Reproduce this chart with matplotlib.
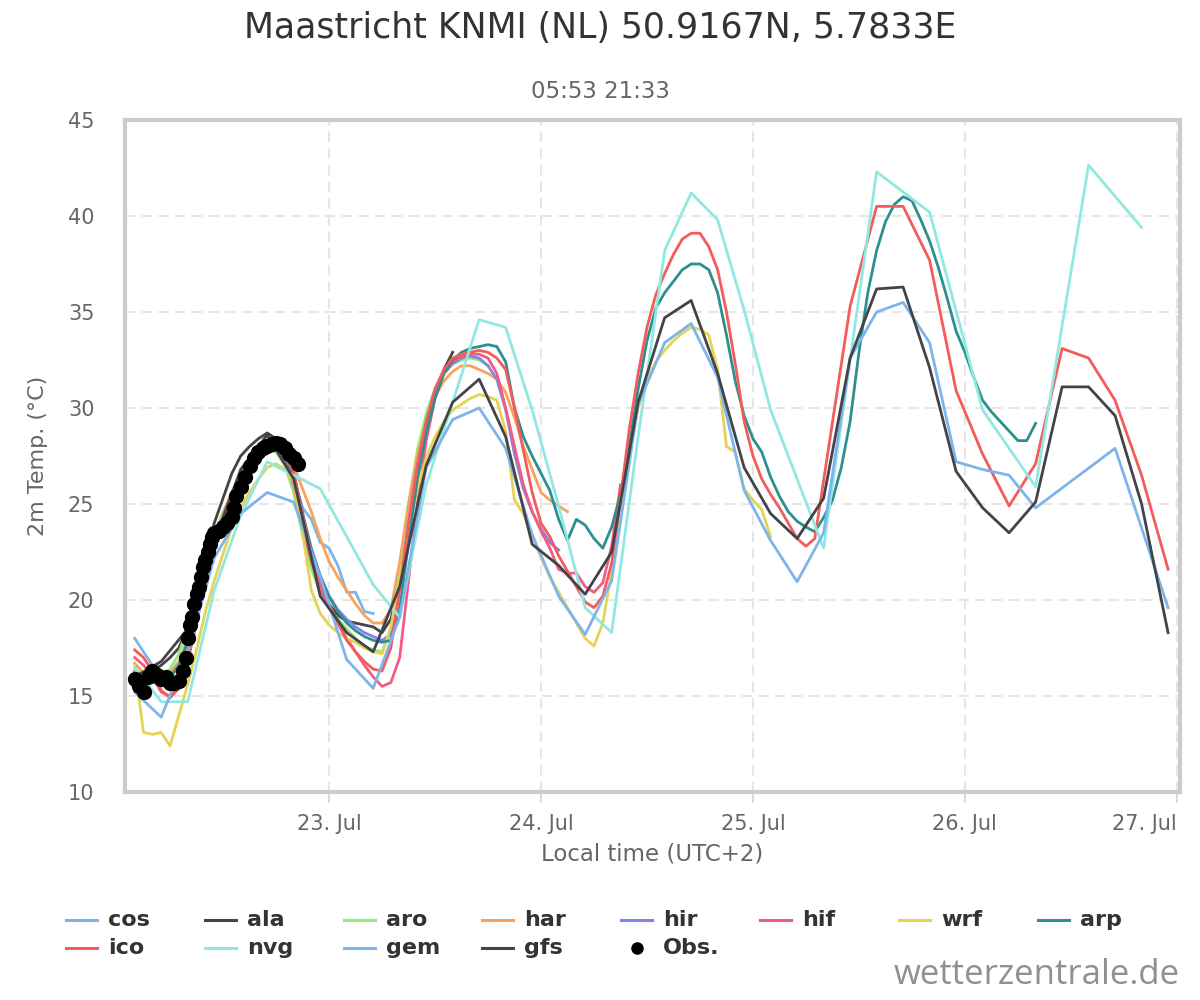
import numpy as np
import matplotlib
matplotlib.use('Agg')
import matplotlib.pyplot as plt
from matplotlib.lines import Line2D

# ---- data: hours counted from 22 Jul 00:00 local time ----
cos_start = 2
cos_temp = [18.0, 17.3, 16.6, 15.8, 15.5, 16.0, 17.2, 19.0, 21.0, 22.6,
            24.0, 25.2, 26.2, 27.0, 27.6, 27.9, 27.9, 27.4, 26.4, 24.8,
            24.2, 23.0, 22.7, 21.8, 20.4, 20.4, 19.4, 19.3]

ala_start = 2
ala_temp = [16.3, 16.1, 16.3, 16.6, 17.0, 17.5, 18.6, 20.0, 22.0, 24.0,
            25.3, 26.6, 27.5, 28.0, 28.4, 28.7, 28.4, 27.8, 26.6, 24.5,
            22.2, 20.6, 19.8, 19.2, 18.9, 18.8, 18.7, 18.6, 18.3, 19.0,
            20.7, 23.8, 26.6, 28.8, 30.6, 32.0, 32.9]

aro_start = 2
aro_temp = [16.3, 16.1, 15.9, 16.0, 16.4, 17.2, 18.6, 20.3, 22.0, 23.4,
            24.6, 25.6, 26.4, 27.0, 27.5, 27.8, 27.7, 27.0, 25.6, 23.4,
            21.6, 20.4, 19.6, 19.0, 18.5, 18.0, 17.6, 17.4, 17.3, 18.4,
            21.5, 25.0, 27.8, 29.7, 31.0, 31.8, 32.3, 32.5, 32.6, 32.5,
            32.2]

har_start = 2
har_temp = [16.7, 16.2, 16.0, 16.0, 16.2, 16.8, 18.0, 19.8, 21.6, 23.0,
            24.2, 25.3, 26.2, 27.0, 27.6, 27.9, 28.0, 27.7, 27.0, 25.8,
            24.6, 23.2, 22.0, 21.2, 20.5, 19.8, 19.2, 18.8, 18.8, 19.5,
            22.0, 25.0, 27.5, 29.3, 30.6, 31.4, 31.9, 32.2, 32.2, 32.0,
            31.8, 31.5, 30.8, 29.5, 28.0, 26.8, 25.6, 25.2, 24.9, 24.6]

hir_start = 2
hir_temp = [16.3, 16.0, 15.8, 15.6, 15.9, 16.6, 17.8, 19.6, 21.4, 23.0,
            24.3, 25.4, 26.4, 27.2, 27.8, 28.1, 28.1, 27.6, 26.5, 24.5,
            22.7, 21.3, 20.2, 19.5, 19.0, 18.6, 18.3, 18.1, 17.9, 18.2,
            20.6, 24.0, 27.0, 29.2, 30.8, 31.8, 32.3, 32.6, 32.7, 32.6,
            32.2, 31.5, 29.9, 27.6, 25.8, 24.6, 23.7, 23.0, 22.6]

hif_start = 2
hif_temp = [17.0, 16.6, 16.0, 15.2, 15.0, 15.6, 17.2, 19.3, 21.4, 23.0,
            24.4, 25.6, 26.6, 27.3, 27.9, 28.2, 28.0, 27.4, 26.0, 23.8,
            22.0, 20.6, 19.6, 18.8, 18.0, 17.3, 16.6, 16.0, 15.5, 15.7,
            17.0, 21.0, 25.0, 28.3, 30.5, 31.8, 32.4, 32.7, 32.8, 32.8,
            32.6, 31.8, 30.0, 28.0, 26.0, 24.6, 23.6, 22.7, 21.6, 21.4,
            21.4, 20.7, 20.4, 20.9, 22.8, 26.0]

wrf_start = 2
wrf_temp = [16.6, 13.1, 13.0, 13.1, 12.4, 14.0, 15.6, 17.4, 19.4, 21.0,
            22.4, 23.8, 24.8, 25.6, 26.3, 26.9, 27.1, 26.8, 26.2, 23.5,
            20.5, 19.3, 18.7, 18.3, 18.0, 17.8, 17.5, 17.3, 17.2, 18.6,
            21.0, 23.6, 25.8, 27.4, 28.5, 29.3, 29.9, 30.2, 30.5, 30.7,
            30.6, 30.4, 28.8, 25.2, 24.5, 23.4, 22.2, 21.2, 20.4, 19.6,
            18.8, 18.0, 17.6, 18.8, 21.5, 24.8, 27.8, 30.0, 31.5, 32.4,
            33.0, 33.5, 33.9, 34.2, 34.1, 33.8, 32.0, 28.0, 27.7, 25.8,
            25.2, 24.7, 23.3]

arp_start = 2
arp_temp = [16.2, 16.0, 15.7, 15.7, 16.0, 16.6, 17.8, 19.5, 21.3, 22.8,
            24.0, 25.2, 26.2, 27.0, 27.6, 28.0, 28.0, 27.5, 26.5, 24.5,
            22.6, 21.2, 20.2, 19.4, 18.8, 18.4, 18.1, 17.9, 17.8, 17.9,
            19.5, 23.0, 26.3, 28.7, 30.5, 31.8, 32.5, 32.9, 33.1, 33.2,
            33.3, 33.2, 32.4, 30.0, 28.5, 27.5, 26.6, 25.7, 24.2, 23.1,
            24.2, 23.9, 23.2, 22.7, 23.8, 25.5, 28.0, 31.0, 33.5, 35.2,
            36.0, 36.6, 37.2, 37.5, 37.5, 37.2, 36.0, 33.8, 31.4, 29.6,
            28.4, 27.7, 26.4, 25.4, 24.6, 24.1, 23.8, 23.55, 24.3, 25.2,
            26.9, 29.3, 32.9, 36.0, 38.2, 39.7, 40.6, 41.0, 40.8, 39.8,
            38.7, 37.3, 35.7, 34.0, 32.9, 31.6, 30.4, 29.8, 29.3, 28.8,
            28.3, 28.3, 29.2]

ico_hours = list(range(2, 80)) + list(range(83, 120, 3))
ico_temp = [17.4, 17.0, 16.3, 15.3, 14.9, 15.4, 16.8, 18.8, 21.0, 22.8,
            24.2, 25.4, 26.4, 27.2, 27.8, 28.2, 28.2, 27.7, 26.6, 24.4,
            22.4, 21.0, 19.8, 18.8, 17.9, 17.3, 16.8, 16.4, 16.3, 17.5,
            20.5, 24.0, 27.0, 29.3, 31.0, 32.0, 32.6, 32.8, 32.9, 33.0,
            32.9, 32.6, 32.0, 30.0, 27.8, 25.6, 24.0, 23.3, 22.3, 21.5,
            20.7, 19.9, 19.6, 20.2, 21.9, 25.3, 28.9, 31.8, 34.2, 35.9,
            37.0, 38.0, 38.8, 39.1, 39.1, 38.4, 37.2, 35.0, 32.3, 29.3,
            27.5, 26.3, 25.5, 24.8, 24.0, 23.2, 22.8, 23.2,
            35.3, 40.5, 40.5, 37.7, 30.9, 27.6, 24.9, 27.1, 33.1, 32.6,
            30.4, 26.5, 21.6]

nvg_hours = [2, 5, 8, 11, 14, 17, 20, 23, 29, 32, 35, 38, 41, 44, 47, 50,
             53, 56, 59, 62, 65, 68, 71, 74, 80, 86, 92, 98, 104, 110, 116]
nvg_temp = [16.5, 14.7, 14.7, 20.5, 24.4, 27.2, 26.5, 25.8, 20.8, 19.1,
            26.0, 30.3, 34.6, 34.2, 29.9, 24.9, 19.6, 18.3, 28.5, 38.2,
            41.2, 39.8, 35.1, 29.9, 22.7, 42.3, 40.2, 29.9, 25.9, 42.65,
            39.4]

gem_hours = list(range(2, 105, 3)) + [113, 119]
gem_temp = [15.2, 13.9, 17.3, 22.2, 24.5, 25.6, 25.1, 21.2, 16.9, 15.4,
            19.1, 26.9, 29.4, 30.0, 27.9, 23.4, 20.2, 18.2, 21.0, 30.2,
            33.4, 34.4, 31.6, 25.7, 23.1, 20.95, 23.5, 32.6, 35.0, 35.5,
            33.4, 27.2, 26.8, 26.5, 24.8, 27.9, 19.6]

gfs_hours = list(range(2, 120, 3))
gfs_temp = [16.0, 16.8, 18.5, 23.0, 26.8, 28.6, 26.3, 20.2, 18.3, 17.3,
            20.7, 27.0, 30.3, 31.5, 28.5, 22.9, 21.8, 20.3, 22.5, 30.3,
            34.7, 35.6, 31.8, 26.9, 24.5, 23.2, 25.3, 32.6, 36.2, 36.3,
            32.1, 26.7, 24.8, 23.5, 25.1, 31.1, 31.1, 29.6, 25.0, 18.3]

obs_hours = [2.0, 2.5, 3.0, 3.5, 4.0, 4.5, 5.0, 5.5, 6.0, 6.5, 7.0, 7.5,
             7.75, 8.0, 8.25, 8.5, 8.75, 9.0, 9.25, 9.5, 9.75, 10.0, 10.25,
             10.5, 10.75, 11.0, 11.5, 12.0, 12.5, 13.0, 13.25, 13.5, 14.0,
             14.5, 15.0, 15.5, 16.0, 16.5, 17.0, 17.5, 18.0, 18.5, 19.0,
             19.5, 20.0, 20.5]
obs_temp = [15.9, 15.5, 15.2, 16.0, 16.3, 16.1, 15.9, 16.0, 15.7, 15.7,
            15.8, 16.3, 17.0, 18.0, 18.7, 19.1, 19.8, 20.3, 20.7, 21.2,
            21.7, 22.1, 22.5, 22.9, 23.3, 23.5, 23.6, 23.8, 24.0, 24.3,
            24.8, 25.4, 25.9, 26.4, 27.0, 27.4, 27.7, 27.9, 28.0, 28.1,
            28.2, 28.1, 27.9, 27.6, 27.4, 27.1]

day_ticks = [24, 48, 72, 96, 120]
day_labels = ['23. Jul', '24. Jul', '25. Jul', '26. Jul', '27. Jul']


def hourly(start, vals):
    return np.arange(start, start + len(vals))


# name, hours, temps, colour  (highcharts default palette)
series = [
    ('cos', hourly(cos_start, cos_temp), cos_temp, '#7cb5ec'),
    ('ala', hourly(ala_start, ala_temp), ala_temp, '#434348'),
    ('aro', hourly(aro_start, aro_temp), aro_temp, '#90ed7d'),
    ('har', hourly(har_start, har_temp), har_temp, '#f7a35c'),
    ('hir', hourly(hir_start, hir_temp), hir_temp, '#8085e9'),
    ('hif', hourly(hif_start, hif_temp), hif_temp, '#f15c80'),
    ('wrf', hourly(wrf_start, wrf_temp), wrf_temp, '#e4d354'),
    ('arp', hourly(arp_start, arp_temp), arp_temp, '#2b908f'),
    ('ico', ico_hours, ico_temp, '#f45b5b'),
    ('nvg', nvg_hours, nvg_temp, '#91e8e1'),
    ('gem', gem_hours, gem_temp, '#7cb5ec'),
    ('gfs', gfs_hours, gfs_temp, '#434348'),
]

plt.rcParams['font.family'] = ['DejaVu Sans']

fig = plt.figure(figsize=(12, 10), dpi=100)
ax = fig.add_axes([125 / 1200, 1 - 792 / 1000, (1180 - 125) / 1200, 672 / 1000])

for name, hrs, temps, col in series:
    ax.plot(hrs, temps, color=col, lw=2.0, solid_joinstyle='round', zorder=3)
ax.plot(obs_hours, obs_temp, 'o', color='black', ms=10, mec='black', zorder=5)

ax.set_xlim(0.9, 120.35)
ax.set_ylim(10, 45)
ax.set_yticks(np.arange(10, 46, 5))
ax.set_xticks(day_ticks)
ax.set_xticklabels(day_labels)
ax.get_xticklabels()[-1].set_ha('right')

ax.grid(True, color='#e6e6e6', lw=1.5, ls=(0, (5, 3)))
ax.set_axisbelow(True)
for sp in ax.spines.values():
    sp.set_color('#cccccc')
    sp.set_linewidth(3)

ax.tick_params(axis='y', length=0, pad=22, labelsize=15, labelcolor='#666666')
ax.tick_params(axis='x', length=8, width=1.2, color='#ccd6eb', pad=8,
               labelsize=15, labelcolor='#666666')
ax.set_xlabel('Local time (UTC+2)', fontsize=16.5, color='#666666', labelpad=6)
ax.set_ylabel('2m Temp. (°C)', fontsize=16, color='#666666', labelpad=14)

fig.text(0.5, 0.972, 'Maastricht KNMI (NL) 50.9167N, 5.7833E', ha='center',
         va='center', fontsize=25, color='#333333')
fig.text(0.5, 0.908, '05:53 21:33', ha='center', va='center', fontsize=16.5,
         color='#666666')

# legend laid out like the highcharts one: 8 columns, row-major
leg_order = [s[0] for s in series] + ['Obs.']
leg_colors = [s[3] for s in series] + ['black']
col_w = 138.8
for i, (lab, col) in enumerate(zip(leg_order, leg_colors)):
    r, c = divmod(i, 8)
    x0 = (66 + col_w * c) / 1200
    y0 = 1 - (920 + 28 * r) / 1000
    if lab == 'Obs.':
        fig.add_artist(Line2D([x0 + 15.5 / 1200], [y0], marker='o', ms=8,
                              color='black', transform=fig.transFigure))
    else:
        fig.add_artist(Line2D([x0, x0 + 31 / 1200], [y0, y0], color=col, lw=2.2,
                              transform=fig.transFigure))
    fig.text(x0 + 42 / 1200, y0, lab, fontsize=16, fontweight='bold',
             color='#333333', va='center', ha='left')

fig.text(1180 / 1200, 1 - 975 / 1000, 'wetterzentrale.de', ha='right',
         va='center', fontsize=25, color='#909090', family='Open Sans')

fig.savefig('out.png', dpi=100)
